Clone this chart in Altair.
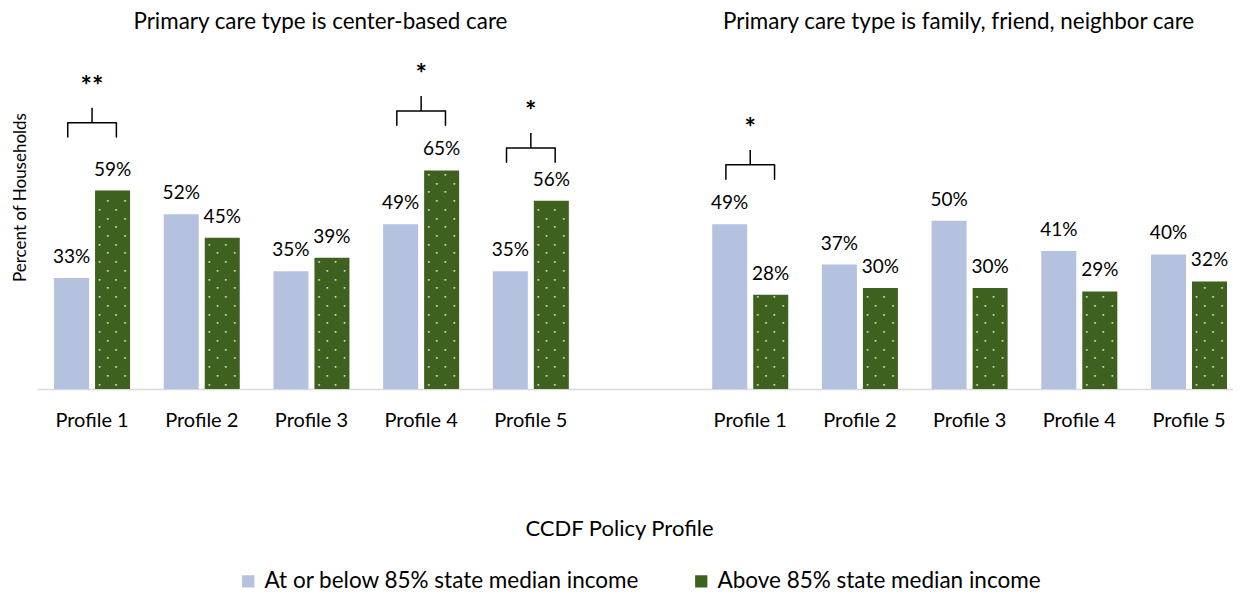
import altair as alt
import pandas as pd

# ---------------- data ----------------
slots = ["C1", "C2", "C3", "C4", "C5", "gap", "F1", "F2", "F3", "F4", "F5"]
center_slots = ["C1", "C2", "C3", "C4", "C5"]
ffn_slots = ["F1", "F2", "F3", "F4", "F5"]
profile_labels = ["Profile 1", "Profile 2", "Profile 3", "Profile 4", "Profile 5"]
series_names = ["At or below 85% state median income", "Above 85% state median income"]
center_below = [33, 52, 35, 49, 35]
center_above = [59, 45, 39, 65, 56]
ffn_below = [49, 37, 50, 41, 40]
ffn_above = [28, 30, 30, 29, 32]
panel_titles = ["Primary care type is center-based care",
                "Primary care type is family, friend, neighbor care"]
title_slots = ["C3", "F3"]
title_level = [109.2, 109.2]
sig_slots = ["C1", "C4", "C5", "F1"]
sig_marks = ["**", "*", "*", "*"]
sig_levels = [79.2, 82.7, 71.7, 66.7]
colors = ["#B4C2DF", "#3F6120"]

rows = []
for s, b, a in zip(center_slots + ffn_slots, center_below + ffn_below, center_above + ffn_above):
    rows.append({"slot": s, "series": series_names[0], "value": b, "label": f"{b}%"})
    rows.append({"slot": s, "series": series_names[1], "value": a, "label": f"{a}%"})
bars_df = pd.DataFrame(rows)

sig_df = pd.DataFrame({"slot": sig_slots, "mark": sig_marks, "level": sig_levels})
titles_df = pd.DataFrame({"slot": title_slots, "title": panel_titles, "level": title_level})

label_map = {s: l for s, l in zip(center_slots + ffn_slots, profile_labels + profile_labels)}
label_expr = "{" + ",".join(f"'{k}':'{v}'" for k, v in label_map.items()) + "}[datum.value] || ''"

FONT = "Lato"

xscale = alt.Scale(domain=slots, paddingInner=0.307, paddingOuter=0.105, align=0.74, round=False)
xaxis = alt.Axis(labelExpr=label_expr, labelAngle=0, labelFont=FONT, labelFontSize=20,
                 labelColor="black", labelPadding=21, ticks=False, tickSize=0,
                 domainColor="#d9d9d9", domainWidth=1.3, grid=False,
                 title="CCDF Policy Profile", titleFont=FONT, titleFontSize=22,
                 titleFontWeight="normal", titleColor="black", titlePadding=88, titleX=582)
yscale = alt.Scale(domain=[0, 113], nice=False, zero=True)
yaxis = alt.Axis(labels=False, ticks=False, domain=False, grid=False,
                 title="Percent of Households", titleFont=FONT, titleFontSize=17,
                 titleFontWeight="normal", titleColor="black", titlePadding=8, titleY=188)
offset_scale = alt.Scale(domain=series_names, paddingInner=0.146, paddingOuter=0)

bars = alt.Chart(bars_df).mark_bar().encode(
    x=alt.X("slot:N", scale=xscale, axis=xaxis),
    xOffset=alt.XOffset("series:N", scale=offset_scale),
    y=alt.Y("value:Q", scale=yscale, axis=yaxis),
    color=alt.Color("series:N", scale=alt.Scale(domain=series_names, range=colors),
                    legend=alt.Legend(orient="none", legendX=200, legendY=561,
                                      direction="horizontal", title=None,
                                      symbolType="square", symbolSize=150,
                                      symbolStrokeWidth=0, labelFont=FONT,
                                      labelFontSize=22.5, labelColor="black",
                                      labelLimit=0, labelOffset=5, columnPadding=50)),
)

# dotted texture on green bars
dot_layers = []
for parity, dxs in [(0, [-13, 3.5]), (1, [-4.8, 12.5])]:
    for dx in dxs:
        dot_layers.append(
            alt.Chart(bars_df).transform_filter(
                alt.datum.series == series_names[1]
            ).transform_calculate(
                dots="sequence(1.3, datum.value - 0.6, 2.6)"
            ).transform_flatten(["dots"]).transform_calculate(
                parity="floor((datum.dots - 1.3) / 2.6 + 0.5) % 2"
            ).transform_filter(
                alt.datum.parity == parity
            ).mark_text(text="•", font="DejaVu Sans", fontSize=6, color="#dfe4d6",
                        baseline="middle", dx=dx).encode(
                x=alt.X("slot:N"),
                xOffset=alt.XOffset("series:N"),
                y=alt.Y("dots:Q"),
            )
        )

labels = alt.Chart(bars_df).mark_text(font=FONT, fontSize=19, dy=-15,
                                      baseline="alphabetic", color="black").encode(
    x=alt.X("slot:N"),
    xOffset=alt.XOffset("series:N"),
    y=alt.Y("value:Q"),
    text="label:N",
)

sig_base = alt.Chart(sig_df).transform_calculate(
    low="datum.level - 4.3", high="datum.level + 4.4"
)
hline = sig_base.mark_rule(color="black", strokeWidth=1.5).encode(
    x=alt.X("slot:N", bandPosition=0.18), x2=alt.X2("slot", bandPosition=0.82),
    y=alt.Y("level:Q"))
lend = sig_base.mark_rule(color="black", strokeWidth=1.5, strokeCap="round").encode(
    x=alt.X("slot:N", bandPosition=0.18), y=alt.Y("level:Q"), y2="low:Q")
rend = sig_base.mark_rule(color="black", strokeWidth=1.5, strokeCap="round").encode(
    x=alt.X("slot:N", bandPosition=0.82), y=alt.Y("level:Q"), y2="low:Q")
stem = sig_base.mark_rule(color="black", strokeWidth=1.5).encode(
    x=alt.X("slot:N", bandPosition=0.5), y=alt.Y("level:Q"), y2="high:Q")
stars = alt.Chart(sig_df).mark_text(font=FONT, fontSize=27, fontWeight="bold",
                                    dy=-28, baseline="alphabetic", color="black").encode(
    x=alt.X("slot:N", bandPosition=0.5), y=alt.Y("level:Q"), text="mark:N")

title_layers = []
for slot, dx in zip(title_slots, [9, -11]):
    title_layers.append(
        alt.Chart(titles_df).transform_filter(alt.datum.slot == slot).mark_text(
            font=FONT, fontSize=22.4, baseline="middle", color="black", dx=dx
        ).encode(x=alt.X("slot:N", bandPosition=0.5), y=alt.Y("level:Q"), text="title:N")
    )

chart = alt.layer(bars, *dot_layers, labels, hline, lend, rend, stem, stars,
                  *title_layers).properties(
    width=1196, height=380,
    autosize=alt.AutoSizeParams(type="none"),
    padding={"left": 29, "top": 1, "right": 0, "bottom": 206},
).configure_view(stroke=None)

chart.save("out.html", embed_options={"renderer": "svg", "actions": False})
